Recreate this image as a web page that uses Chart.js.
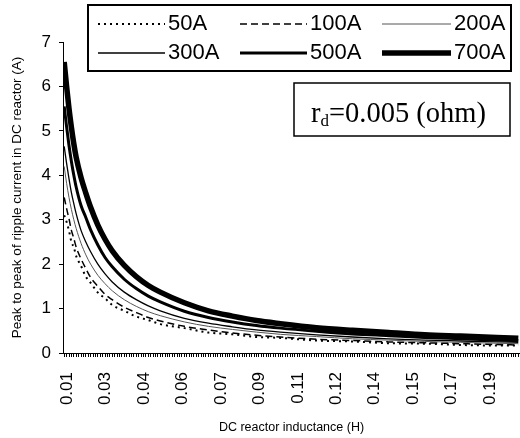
<!DOCTYPE html>
<html>
<head>
<meta charset="utf-8">
<script src="https://cdn.jsdelivr.net/npm/chart.js@4/dist/chart.umd.min.js"></script>
<style>
  html, body { margin: 0; padding: 0; background: #fff; overflow: hidden; }
  #wrap { width: 520px; height: 438px; position: relative; }
</style>
</head>
<body>
<div id="wrap"><canvas id="ripple"></canvas></div>
<script>
// inductance (H) at the sampled points
const inductance = [0.010, 0.011, 0.012, 0.013, 0.014, 0.015, 0.017, 0.019, 0.021, 0.024, 0.027, 0.030, 0.035, 0.040,
                    0.045, 0.050, 0.060, 0.070, 0.080, 0.090, 0.100, 0.115, 0.130, 0.145, 0.160, 0.175, 0.190, 0.199];

// peak to peak ripple current (A)
const ripple50A  = [3.10, 2.95, 2.75, 2.50, 2.38, 2.18, 1.96, 1.72, 1.58, 1.36, 1.23, 1.08, 0.95, 0.82, 0.74, 0.65, 0.56, 0.46, 0.42, 0.36, 0.34, 0.28, 0.26, 0.22, 0.21, 0.18, 0.17, 0.17];
const ripple100A = [3.50, 3.25, 3.02, 2.76, 2.58, 2.38, 2.12, 1.90, 1.70, 1.50, 1.32, 1.20, 1.03, 0.91, 0.80, 0.72, 0.60, 0.52, 0.45, 0.40, 0.36, 0.31, 0.28, 0.25, 0.23, 0.21, 0.19, 0.18];
const ripple200A = [4.20, 3.82, 3.50, 3.23, 3.00, 2.80, 2.47, 2.21, 2.00, 1.75, 1.56, 1.40, 1.20, 1.05, 0.93, 0.84, 0.70, 0.60, 0.53, 0.47, 0.42, 0.37, 0.32, 0.29, 0.26, 0.24, 0.22, 0.21];
const ripple300A = [4.65, 4.27, 3.92, 3.61, 3.36, 3.13, 2.76, 2.50, 2.28, 2.00, 1.78, 1.60, 1.37, 1.20, 1.06, 0.95, 0.78, 0.67, 0.59, 0.52, 0.47, 0.41, 0.36, 0.32, 0.29, 0.27, 0.25, 0.24];
const ripple500A = [5.55, 5.09, 4.67, 4.31, 4.00, 3.73, 3.32, 3.05, 2.77, 2.43, 2.15, 1.94, 1.66, 1.45, 1.28, 1.15, 0.94, 0.80, 0.70, 0.62, 0.56, 0.49, 0.43, 0.39, 0.35, 0.32, 0.29, 0.28];
const ripple700A = [6.55, 6.00, 5.50, 5.08, 4.71, 4.40, 3.95, 3.60, 3.28, 2.88, 2.56, 2.30, 1.97, 1.72, 1.52, 1.37, 1.13, 0.95, 0.83, 0.73, 0.66, 0.57, 0.51, 0.46, 0.41, 0.38, 0.35, 0.33];

const seriesNames = ['50A', '100A', '200A', '300A', '500A', '700A'];
const xTickLabels = ['0.01', '0.03', '0.04', '0.06', '0.07', '0.09', '0.11', '0.12', '0.14', '0.15', '0.17', '0.19'];
const yTickLabels = ['0', '1', '2', '3', '4', '5', '6', '7'];

// minor tick every 0.001 H, a label every 16th
const xTickValues = [];
for (let i = 0; i < 190; i++) xTickValues.push(+(0.010 + i * 0.001).toFixed(3));

const styles = [
    { borderColor: '#000', borderWidth: 2, borderDash: [2, 4] },
    { borderColor: '#000', borderWidth: 1.5, borderDash: [7, 4] },
    { borderColor: '#555', borderWidth: 1, borderDash: [] },
    { borderColor: '#000', borderWidth: 1.3, borderDash: [] },
    { borderColor: '#000', borderWidth: 3, borderDash: [] },
    { borderColor: '#000', borderWidth: 5.5, borderDash: [] }
];
const allSeries = [ripple50A, ripple100A, ripple200A, ripple300A, ripple500A, ripple700A];

const datasets = allSeries.map((vals, s) => ({
    label: seriesNames[s],
    data: vals.map((v, i) => ({ x: inductance[i], y: v })),
    ...styles[s],
    pointRadius: 0,
    fill: false,
    cubicInterpolationMode: 'monotone'
}));

const FONT = '"Liberation Sans", Arial, sans-serif';

// boxed legend, two rows of three
const legendBox = {
    id: 'legendBox',
    afterDraw(chart) {
        const ctx = chart.ctx;
        ctx.save();
        ctx.fillStyle = '#fff';
        ctx.fillRect(88, 5, 423, 66);
        ctx.strokeStyle = '#000';
        ctx.lineWidth = 2;
        ctx.strokeRect(88, 5, 423, 66);
        const cols = [[98, 165], [240, 307], [382, 451]];
        const rows = [24, 53];
        ctx.font = '22px ' + FONT;
        ctx.textBaseline = 'middle';
        chart.data.datasets.forEach((ds, i) => {
            const c = cols[i % 3], y = rows[Math.floor(i / 3)];
            ctx.strokeStyle = ds.borderColor;
            ctx.lineWidth = ds.borderWidth;
            ctx.setLineDash(ds.borderDash);
            ctx.beginPath();
            ctx.moveTo(c[0], y);
            ctx.lineTo(c[1], y);
            ctx.stroke();
            ctx.setLineDash([]);
            ctx.fillStyle = '#000';
            ctx.fillText(ds.label, c[1] + 3, y);
        });
        ctx.restore();
    }
};

// r_d note
const noteBox = {
    id: 'noteBox',
    afterDraw(chart) {
        const ctx = chart.ctx;
        ctx.save();
        ctx.fillStyle = '#fff';
        ctx.fillRect(294, 83, 216, 53);
        ctx.strokeStyle = '#000';
        ctx.lineWidth = 1.5;
        ctx.strokeRect(294, 83, 216, 53);
        ctx.fillStyle = '#000';
        ctx.textBaseline = 'alphabetic';
        const serif = '"Liberation Serif", "Times New Roman", serif';
        let x = 311;
        ctx.font = '28.5px ' + serif;
        ctx.fillText('r', x, 122);
        x += ctx.measureText('r').width;
        ctx.font = '17px ' + serif;
        ctx.fillText('d', x, 126);
        x += ctx.measureText('d').width;
        ctx.font = '28.5px ' + serif;
        ctx.fillText('=0.005 (ohm)', x, 122);
        ctx.restore();
    }
};

new Chart(document.getElementById('ripple'), {
    type: 'line',
    data: { datasets },
    options: {
        responsive: true,
        maintainAspectRatio: false,
        animation: false,
        events: [],
        layout: { padding: { top: 42, right: 0, bottom: 0, left: 0 } },
        plugins: { legend: { display: false }, tooltip: { enabled: false } },
        scales: {
            x: {
                type: 'linear',
                min: 0.0095,
                max: 0.1997,
                afterBuildTicks: axis => { axis.ticks = xTickValues.map(v => ({ value: v })); },
                afterFit: s => { s.height = 85; s.paddingLeft = 0; s.paddingRight = 0; },
                grid: { drawOnChartArea: false, drawTicks: true, tickLength: 4, color: '#000', lineWidth: 1 },
                border: { display: true, color: '#000', width: 1 },
                ticks: {
                    autoSkip: false,
                    minRotation: 90,
                    maxRotation: 90,
                    padding: 15,
                    labelOffset: 3,
                    color: '#000',
                    font: { family: FONT, size: 17 },
                    callback: (v, i) => (i % 16 === 0 ? xTickLabels[i / 16] : '')
                },
                title: {
                    display: true,
                    text: 'DC reactor inductance (H)',
                    color: '#000',
                    font: { family: FONT, size: 12.5 },
                    padding: { top: 0, bottom: 3 }
                }
            },
            y: {
                min: 0,
                max: 7,
                afterFit: s => { s.width = 63; },
                grid: { drawOnChartArea: false, drawTicks: true, tickLength: 4, color: '#000', lineWidth: 1 },
                border: { display: true, color: '#000', width: 1 },
                ticks: {
                    stepSize: 1,
                    padding: 8,
                    color: '#000',
                    font: { family: FONT, size: 17 },
                    callback: (v, i) => yTickLabels[i]
                },
                title: {
                    display: true,
                    text: 'Peak to peak of ripple current in DC reactor (A)',
                    color: '#000',
                    font: { family: FONT, size: 13.5 },
                    padding: { top: 9, bottom: 0 }
                }
            }
        }
    },
    plugins: [legendBox, noteBox]
});
</script>
</body>
</html>
